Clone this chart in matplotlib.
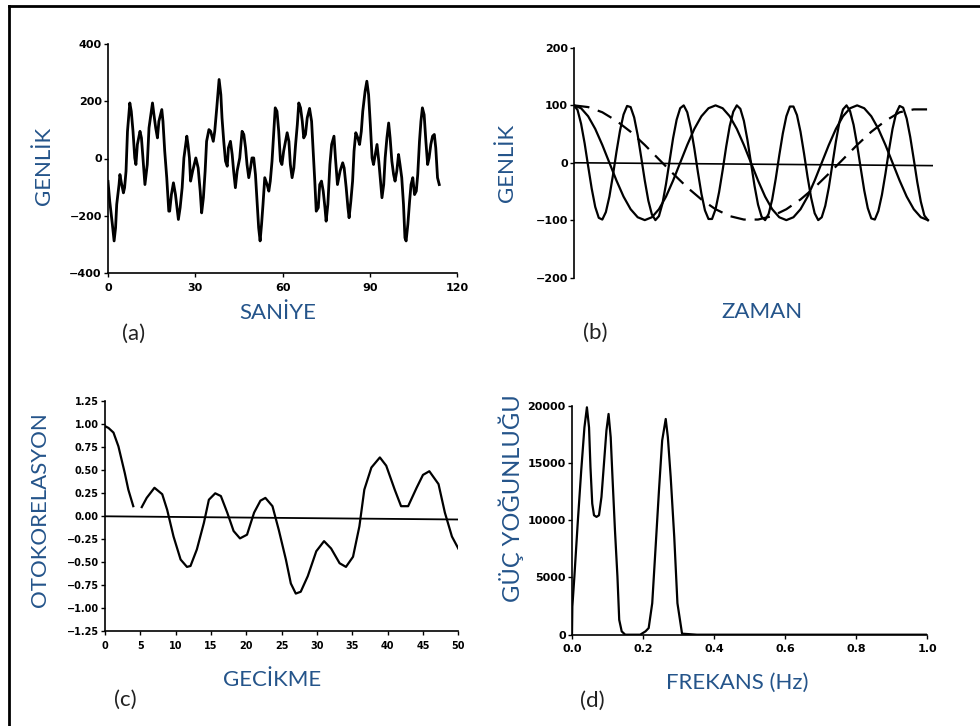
import numpy as np
import matplotlib.pyplot as plt
from matplotlib.lines import Line2D

# (a) composite signal
sig_t = [0.0, 0.6, 1.5, 2.1, 2.6, 3.0, 3.8, 4.1, 4.6, 5.3, 5.7, 6.2, 6.7, 7.5, 8.0, 8.6, 9.2, 9.6,
         10.1, 11.0, 11.5, 12.0, 12.7, 13.5, 14.1, 15.3, 15.8, 16.4, 17.0, 17.5, 18.5, 18.9, 19.5,
         20.2, 20.9, 21.2, 21.8, 22.5, 23.2, 23.6, 24.2, 24.8, 25.5, 26.1, 27.1, 27.5, 28.0, 28.4,
         29.1, 30.2, 31.0, 31.7, 32.2, 32.8, 33.4, 33.9, 34.7, 35.3, 36.2, 36.7, 37.4, 38.2, 38.8,
         39.2, 39.8, 40.4, 41.0, 41.4, 42.1, 42.7, 43.2, 43.8, 44.4, 45.3, 46.1, 46.7, 47.3, 47.8,
         48.4, 49.0, 49.5, 50.1, 50.7, 51.3, 51.8, 52.3, 52.8, 53.3, 53.9, 54.7, 55.3, 55.8, 56.4,
         57.0, 57.5, 58.1, 58.7, 59.3, 59.8, 60.4, 61.6, 62.2, 62.7, 63.3, 63.9, 64.5, 65.1, 65.6,
         66.2, 66.8, 67.3, 67.9, 68.5, 69.3, 70.0, 70.5, 71.1, 71.6, 72.3, 72.8, 73.4, 74.0, 74.6,
         75.0, 75.6, 76.3, 76.9, 77.7, 78.2, 78.9, 79.8, 80.7, 81.2, 81.9, 82.5, 82.9, 83.5, 84.1,
         84.6, 85.2, 85.9, 86.5, 87.1, 87.6, 88.4, 89.0, 89.6, 90.2, 90.8, 91.3, 91.9, 92.5, 93.1,
         93.7, 94.2, 94.8, 95.3, 95.9, 96.5, 97.0, 97.6, 98.2, 98.7, 99.3, 99.9, 100.4, 101.0,
         101.6, 102.1, 102.5, 103.1, 103.7, 104.2, 104.8, 105.4, 106.0, 106.5, 107.1, 107.6,
         108.1, 108.7, 109.3, 109.9, 110.4, 111.0, 111.6, 112.2, 112.7, 113.3, 113.9]
sig_amp = [-80, -150, -230, -288, -242, -160, -91, -56, -85, -120, -102, -44, 95, 194, 165, 95, 2, -21,
           49, 95, 72, 2, -91, -21, 107, 194, 153, 107, 72, 130, 171, 130, 26,
           -67, -184, -184, -126, -85, -126, -160, -213, -172, -102, 2, 78, 49, 2, -79,
           -44, 2, -33, -114, -190, -137, -44, 60, 101, 95, 60, 95, 177, 276, 223,
           142, 60, -9, -27, 37, 60, 14, -44, -102, -44, 2, 95, 84, 37, -21,
           -67, -33, 2, 2, -56, -160, -242, -288, -230, -160, -67, -91, -114, -79, -9,
           95, 177, 165, 95, -9, -21, 26, 90, 60, -21, -67, -33, 49, 119, 194,
           177, 130, 72, 84, 142, 175, 130, 37, -79, -184, -172, -91, -79, -114, -172,
           -219, -160, -21, 49, 78, 2, -91, -44, -15, -33, -102, -172, -207, -149, -79,
           26, 90, 72, 49, 95, 165, 235, 270, 223, 119, 2, -21, 14, 49, -9,
           -79, -137, -91, 2, 72, 124, 72, -9, -56, -79, -44, 14, -21, -67,
           -160, -277, -288, -230, -149, -91, -67, -126, -114, -56, 60, 130,
           177, 153, 60, -21, 2, 49, 78, 84, 37, -67, -91]
sig_xticks = [0, 30, 60, 90, 120]
sig_yticks = [-400, -200, 0, 200, 400]

# (b) components
fast_t = np.arange(0, 25.01, 0.25)
fast_amp = [100, 92, 68, 34, -6, -45, -77, -96, -99, -86,
            -59, -22, 19, 56, 84, 99, 97, 79, 48, 9,
            -31, -66, -90, -100, -93, -71, -37, 3, 43, 75,
            95, 100, 88, 61, 25, -16, -54, -83, -98, -98,
            -81, -51, -13, 28, 64, 89, 100, 94, 73, 40,
            0, -40, -73, -94, -100, -89, -64, -28, 13, 51,
            81, 98, 98, 83, 54, 16, -25, -61, -88, -100,
            -95, -75, -43, -3, 37, 71, 93, 100, 90, 66,
            31, -9, -48, -79, -97, -99, -84, -56, -19, 22,
            59, 86, 99, 96, 77, 45, 6, -34, -68, -92, -100]
mid_t = np.arange(0, 25.01, 0.5)
mid_amp = [100, 95, 81, 59, 31, 0, -31, -59, -81, -95,
           -100, -95, -81, -59, -31, 0, 31, 59, 81, 95,
           100, 95, 81, 59, 31, 0, -31, -59, -81, -95,
           -100, -95, -81, -59, -31, 0, 31, 59, 81, 95,
           100, 95, 81, 59, 31, 0, -31, -59, -81, -95, -100]
slow_t = np.arange(0, 25.01, 1.0)
slow_amp = [100, 97, 88, 73, 54, 31, 6, -19, -43, -64, -81, -93, -99,
            -99, -93, -81, -64, -43, -19, 6, 31, 54, 73, 88, 93, 93]
zero_b_t = [0, 25.3]
zero_b = [0, -5]
comp_yticks = [-200, -100, 0, 100, 200]

# (c) autocorrelation
lag = [0, 0.5, 1.2, 1.9, 2.8, 3.3, 4.0, np.nan, 5.2, 5.9, 7.0, 8.1, 8.8, 9.7, 10.7, 11.6, 12.1, 13.0,
       14.0, 14.7, 15.6, 16.4, 17.3, 18.2, 19.1, 20.1, 21.1, 22.0, 22.7, 23.7, 24.6, 25.6, 26.3,
       27.0, 27.7, 28.7, 29.9, 31.0, 32.0, 33.2, 34.1, 35.1, 36.0, 36.7, 37.7, 38.9, 39.8, 41.0,
       41.9, 42.9, 44.1, 45.0, 45.9, 47.2, 48.1, 49.1, 50.0]
acf = [0.98, 0.96, 0.91, 0.76, 0.47, 0.29, 0.11, np.nan, 0.10, 0.20, 0.31, 0.24, 0.07, -0.22, -0.47,
       -0.55, -0.54, -0.36, -0.07, 0.18, 0.25, 0.22, 0.04, -0.16, -0.24, -0.20, 0.04, 0.17, 0.20,
       0.11, -0.15, -0.47, -0.73, -0.84, -0.82, -0.65, -0.38, -0.27, -0.35, -0.51, -0.55, -0.44,
       -0.11, 0.29, 0.53, 0.64, 0.55, 0.29, 0.11, 0.11, 0.31, 0.45, 0.49, 0.35, 0.04, -0.22, -0.35]
zero_c_lag = [0, 50.3]
zero_c = [0.0, -0.035]
lag_ticks = [0, 5, 10, 15, 20, 25, 30, 35, 40, 45, 50]
acf_ticks = [1.25, 1.0, 0.75, 0.5, 0.25, 0.0, -0.25, -0.5, -0.75, -1.0, -1.25]
acf_labels = ['1.25', '1.00', '0.75', '0.50', '0.25', '0.00',
              '\u22120.25', '\u22120.50', '\u22120.75', '\u22121.00', '\u22121.25']

# (d) power spectrum
freq = [0.0, 0.001, 0.0067, 0.016, 0.026, 0.035, 0.042, 0.048, 0.052, 0.057,
        0.062, 0.069, 0.076, 0.083, 0.090, 0.097, 0.103, 0.109, 0.114, 0.121,
        0.128, 0.133, 0.140, 0.150, 0.192, 0.207, 0.216, 0.226, 0.235, 0.245,
        0.254, 0.264, 0.270, 0.278, 0.288, 0.297, 0.31, 0.352, 1.0]
power = [0, 2460, 5070, 9710, 14350, 18100, 19860, 18100, 14640, 11450,
         10430, 10290, 10430, 12030, 14930, 17830, 19280, 17250, 13770, 9130,
         5070, 1300, 290, 0, 0, 290, 580, 2750, 7390, 12610,
         16960, 18840, 17250, 13770, 8550, 2750, 90, 0, 0]
freq_ticks = [0.0, 0.2, 0.4, 0.6, 0.8, 1.0]
power_ticks = [0, 5000, 10000, 15000, 20000]

W, H = 980, 726
label_color = '#24548A'
label_font = ['Lato', 'DejaVu Sans']

fig = plt.figure(figsize=(W / 100, H / 100), dpi=100)


def add_axes_px(left, top, right, bottom):
    ax = fig.add_axes([left / W, 1 - bottom / H, (right - left) / W, (bottom - top) / H])
    ax.patch.set_alpha(0)
    for side in ['top', 'right']:
        ax.spines[side].set_visible(False)
    for side in ['left', 'bottom']:
        ax.spines[side].set_linewidth(1.2)
    ax.tick_params(direction='out', length=3, width=1, pad=1.5)
    ax.tick_params(axis='x', pad=4)
    return ax


def style_ticklabels(ax, size):
    for lab in ax.get_xticklabels() + ax.get_yticklabels():
        lab.set_fontfamily('DejaVu Sans')
        lab.set_fontweight('bold')
        lab.set_fontsize(size)


def fig_text(x, y, s, color=label_color, rotation=0, size=16):
    fig.text(x / W, 1 - y / H, s, ha='center', va='center', rotation=rotation,
             color=color, fontsize=size, family=label_font)


# (a)
ax_a = add_axes_px(108, 44, 457, 273)
ax_a.plot(sig_t, sig_amp, color='black', lw=2.0)
ax_a.set_xlim(0, 120)
ax_a.set_ylim(-400, 400)
ax_a.set_xticks(sig_xticks)
ax_a.set_yticks(sig_yticks)
style_ticklabels(ax_a, 8)

# (b)
ax_b = add_axes_px(574, 48, 935, 277.5)
ax_b.plot(fast_t, fast_amp, color='black', lw=1.6)
ax_b.plot(mid_t, mid_amp, color='black', lw=1.6)
ax_b.plot(slow_t, slow_amp, color='black', lw=1.6, linestyle=(0, (7, 4)))
ax_b.plot(zero_b_t, zero_b, color='black', lw=1.2)
ax_b.set_xlim(0, 25.5)
ax_b.set_ylim(-200, 200)
ax_b.spines['bottom'].set_visible(False)
ax_b.set_xticks([])
ax_b.set_yticks(comp_yticks)
style_ticklabels(ax_b, 8)

# (c)
ax_c = add_axes_px(105, 401.3, 458.3, 631.3)
ax_c.plot(lag, acf, color='black', lw=1.6)
ax_c.plot(zero_c_lag, zero_c, color='black', lw=1.3)
ax_c.set_xlim(0, 50)
ax_c.set_ylim(-1.25, 1.25)
ax_c.set_xticks(lag_ticks)
ax_c.set_yticks(acf_ticks)
ax_c.set_yticklabels(acf_labels)
style_ticklabels(ax_c, 7)

# (d)
ax_d = add_axes_px(572, 405.7, 927, 634.7)
ax_d.plot(freq, power, color='black', lw=1.6)
ax_d.set_xlim(0, 1.0)
ax_d.set_ylim(0, 20000)
ax_d.set_xticks(freq_ticks)
ax_d.set_xticklabels(['%.1f' % f for f in freq_ticks])
ax_d.set_yticks(power_ticks)
style_ticklabels(ax_d, 8)

# axis titles and panel letters
fig_text(44, 166, 'GENLİK', rotation=90)
fig_text(278, 313, 'SANİYE')
fig_text(134, 334, '(a)', color='#222222')
fig_text(507, 163, 'GENLİK', rotation=90)
fig_text(762, 312, 'ZAMAN')
fig_text(595, 333, '(b)', color='#222222')
fig_text(40, 510, 'OTOKORELASYON', rotation=90)
fig_text(272, 680, 'GECİKME')
fig_text(125, 700, '(c)', color='#222222')
fig_text(511, 498, 'GÜÇ YOĞUNLUĞU', rotation=90, size=17)
fig_text(737, 683, 'FREKANS (Hz)')
fig_text(592, 701, '(d)', color='#222222')

# frame of the scanned page (left and top edges)
fig.add_artist(Line2D([9 / W, 9 / W], [0, 1 - 6 / H], color='black', lw=2))
fig.add_artist(Line2D([9 / W, 1], [1 - 6 / H, 1 - 6 / H], color='black', lw=2))

fig.savefig('out.png', dpi=100)
